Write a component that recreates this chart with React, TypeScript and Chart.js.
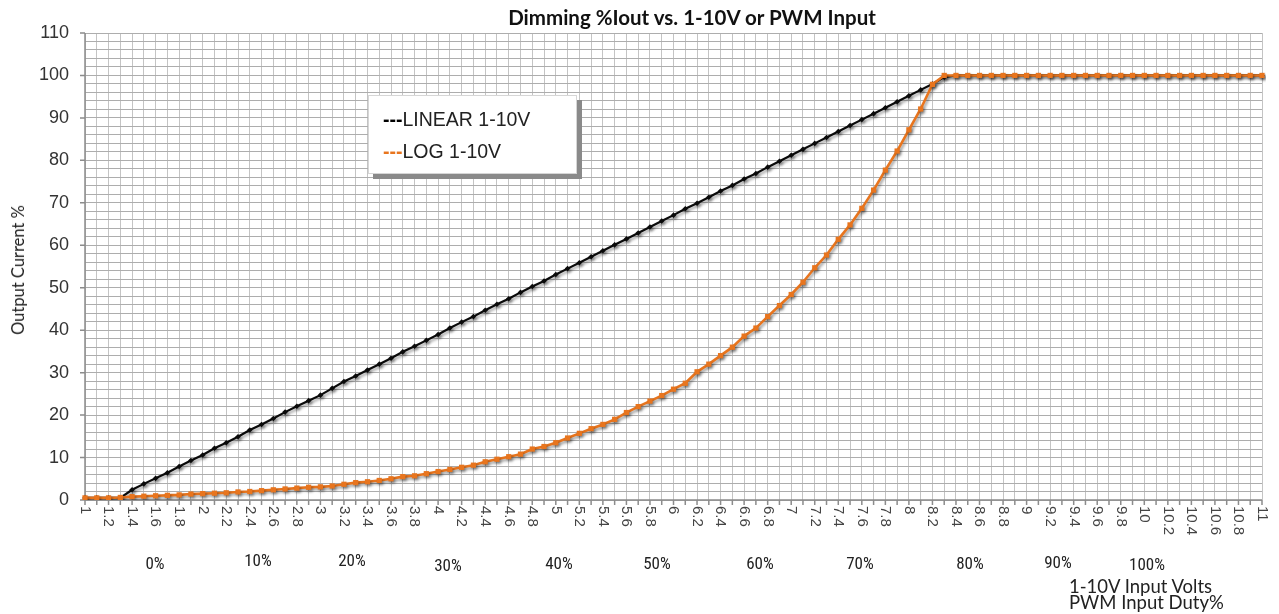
import React, { useEffect, useRef } from 'react';
import { Chart, registerables } from 'chart.js';

Chart.register(...registerables);

// Input volts (categories, one per 0.1 V)
const voltageCategories: string[] = [
  '1', '1.1', '1.2', '1.3', '1.4', '1.5', '1.6', '1.7', '1.8', '1.9',
  '2', '2.1', '2.2', '2.3', '2.4', '2.5', '2.6', '2.7', '2.8', '2.9',
  '3', '3.1', '3.2', '3.3', '3.4', '3.5', '3.6', '3.7', '3.8', '3.9',
  '4', '4.1', '4.2', '4.3', '4.4', '4.5', '4.6', '4.7', '4.8', '4.9',
  '5', '5.1', '5.2', '5.3', '5.4', '5.5', '5.6', '5.7', '5.8', '5.9',
  '6', '6.1', '6.2', '6.3', '6.4', '6.5', '6.6', '6.7', '6.8', '6.9',
  '7', '7.1', '7.2', '7.3', '7.4', '7.5', '7.6', '7.7', '7.8', '7.9',
  '8', '8.1', '8.2', '8.3', '8.4', '8.5', '8.6', '8.7', '8.8', '8.9',
  '9', '9.1', '9.2', '9.3', '9.4', '9.5', '9.6', '9.7', '9.8', '9.9',
  '10', '10.1', '10.2', '10.3', '10.4', '10.5', '10.6', '10.7', '10.8', '10.9',
  '11',
];

// Shown x tick labels (every 0.2 V)
const xTickLabels: string[] = [
  '1', '1.2', '1.4', '1.6', '1.8', '2', '2.2', '2.4', '2.6', '2.8',
  '3', '3.2', '3.4', '3.6', '3.8', '4', '4.2', '4.4', '4.6', '4.8',
  '5', '5.2', '5.4', '5.6', '5.8', '6', '6.2', '6.4', '6.6', '6.8',
  '7', '7.2', '7.4', '7.6', '7.8', '8', '8.2', '8.4', '8.6', '8.8',
  '9', '9.2', '9.4', '9.6', '9.8', '10', '10.2', '10.4', '10.6', '10.8',
  '11',
];

const yTickValues: number[] = [0, 10, 20, 30, 40, 50, 60, 70, 80, 90, 100, 110];

// LINEAR 1-10V series (% output current)
const linearSeries: number[] = [
  0.5, 0.5, 0.5, 0.5, 2.4, 3.8, 5.1, 6.4, 7.9, 9.3,
  10.6, 12.2, 13.5, 14.9, 16.5, 17.8, 19.2, 20.7, 22.1, 23.4,
  24.7, 26.3, 27.9, 29.2, 30.6, 32.0, 33.4, 34.9, 36.2, 37.6,
  39.0, 40.5, 41.9, 43.2, 44.7, 46.1, 47.4, 48.9, 50.3, 51.6,
  53.1, 54.5, 55.9, 57.3, 58.7, 60.1, 61.5, 62.9, 64.3, 65.7,
  67.1, 68.6, 69.9, 71.3, 72.8, 74.1, 75.6, 76.9, 78.4, 79.8,
  81.2, 82.6, 84.0, 85.4, 86.8, 88.2, 89.6, 91.0, 92.4, 93.8,
  95.2, 96.6, 98.0, 99.6, 100, 100, 100, 100, 100, 100,
  100, 100, 100, 100, 100, 100, 100, 100, 100, 100,
  100, 100, 100, 100, 100, 100, 100, 100, 100, 100,
  100,
];

// LOG 1-10V series (% output current)
const logSeries: number[] = [
  0.5, 0.5, 0.5, 0.6, 0.8, 0.9, 1.0, 1.1, 1.2, 1.4,
  1.5, 1.6, 1.7, 1.9, 2.0, 2.2, 2.4, 2.6, 2.8, 3.0,
  3.1, 3.3, 3.7, 4.1, 4.3, 4.6, 5.0, 5.5, 5.7, 6.2,
  6.7, 7.2, 7.7, 8.2, 9.0, 9.6, 10.2, 10.8, 12.0, 12.6,
  13.5, 14.6, 15.7, 16.8, 17.8, 19.0, 20.6, 22.0, 23.3, 24.6,
  26.1, 27.5, 30.2, 32.0, 34.0, 36.0, 38.6, 40.5, 43.2, 45.8,
  48.4, 51.3, 54.7, 57.7, 61.4, 64.8, 68.7, 73.0, 77.7, 82.2,
  87.2, 92.1, 97.9, 100, 100, 100, 100, 100, 100, 100,
  100, 100, 100, 100, 100, 100, 100, 100, 100, 100,
  100, 100, 100, 100, 100, 100, 100, 100, 100, 100,
  100,
];

// PWM duty labels under the axis
const pwmDutyLabels: string[] = ['0%', '10%', '20%', '30%', '40%', '50%', '60%', '70%', '80%', '90%', '100%'];
const pwmDutyLabelX: number[] = [155, 258, 352, 448, 559, 657, 760, 860, 970, 1058, 1147];
const pwmDutyLabelY: number[] = [563, 560, 560, 565, 563, 563, 563, 563, 563, 562, 564];

const BLACK = '#0a0a0a';
const ORANGE = '#E8751E';

const decorPlugin = {
  id: 'decor',
  beforeDatasetsDraw(chart: any) {
    const { ctx, chartArea: a, scales } = chart;
    ctx.save();
    ctx.strokeStyle = '#8c8c8c';
    ctx.lineWidth = 1.5;
    ctx.beginPath();
    ctx.moveTo(a.left, a.top);
    ctx.lineTo(a.left, a.bottom);
    ctx.lineTo(a.right, a.bottom);
    yTickValues.forEach((v) => {
      const y = scales.y.getPixelForValue(v);
      ctx.moveTo(a.left - 5, y);
      ctx.lineTo(a.left, y);
    });
    voltageCategories.forEach((_, i) => {
      const x = scales.x.getPixelForValue(i);
      ctx.moveTo(x, a.bottom);
      ctx.lineTo(x, a.bottom + 5);
    });
    ctx.stroke();
    ctx.restore();
  },
  beforeDatasetDraw(chart: any) {
    const ctx = chart.ctx;
    ctx.save();
    ctx.shadowColor = 'rgba(0,0,0,0.4)';
    ctx.shadowBlur = 3;
    ctx.shadowOffsetX = 1.5;
    ctx.shadowOffsetY = 2;
  },
  afterDatasetDraw(chart: any) {
    chart.ctx.restore();
  },
  afterDraw(chart: any) {
    const { ctx, chartArea: a, scales } = chart;
    ctx.save();
    ctx.fillStyle = '#333333';
    ctx.font = '18px "Liberation Sans", Arial, sans-serif';
    ctx.textAlign = 'right';
    ctx.textBaseline = 'middle';
    yTickValues.forEach((v) => {
      ctx.fillText(String(v), a.left - 16, scales.y.getPixelForValue(v));
    });
    ctx.font = '15px "Liberation Sans", Arial, sans-serif';
    ctx.fillStyle = '#444444';
    xTickLabels.forEach((lbl) => {
      const idx = voltageCategories.indexOf(lbl);
      const x = scales.x.getPixelForValue(idx);
      ctx.save();
      ctx.translate(x, a.bottom + 6);
      ctx.rotate(Math.PI / 2);
      ctx.textAlign = 'left';
      ctx.textBaseline = 'middle';
      ctx.fillText(lbl, 0, 0);
      ctx.restore();
    });
    ctx.restore();
  },
};

export default function App() {
  const canvasRef = useRef<HTMLCanvasElement | null>(null);

  useEffect(() => {
    if (!canvasRef.current) return;
    const chart = new Chart(canvasRef.current, {
      type: 'line',
      data: {
        labels: voltageCategories,
        datasets: [
          {
            label: 'LINEAR 1-10V',
            data: linearSeries,
            borderColor: BLACK,
            backgroundColor: BLACK,
            borderWidth: 2.2,
            pointStyle: 'rectRot',
            pointRadius: 2.8,
            pointBorderWidth: 0,
            tension: 0,
            order: 1,
          },
          {
            label: 'LOG 1-10V',
            data: logSeries,
            borderColor: ORANGE,
            backgroundColor: ORANGE,
            borderWidth: 2.6,
            pointStyle: 'rect',
            pointRadius: 3.7,
            pointBorderWidth: 0,
            tension: 0,
            order: 0,
          },
        ],
      },
      options: {
        animation: false,
        responsive: false,
        maintainAspectRatio: false,
        layout: { padding: { left: 85, right: 17, top: 33, bottom: 114 } },
        plugins: {
          legend: { display: false },
          title: { display: false },
          tooltip: { enabled: false },
        },
        scales: {
          x: {
            ticks: { display: false },
            grid: { color: '#c4c4c4', lineWidth: 1, drawTicks: false },
            border: { display: false },
          },
          y: {
            min: 0,
            max: 110,
            ticks: { display: false, stepSize: 2 },
            grid: { color: '#adadad', lineWidth: 1, drawTicks: false },
            border: { display: false },
          },
        },
      },
      plugins: [decorPlugin],
    });
    return () => chart.destroy();
  }, []);

  const narrow = '"Liberation Sans Narrow", "Roboto Condensed", "Liberation Sans", sans-serif';

  return (
    <div style={{ position: 'fixed', left: 0, top: 0, width: 1279, height: 614, background: '#fff', overflow: 'hidden' }}>
      <canvas ref={canvasRef} width={1279} height={614} style={{ position: 'absolute', left: 0, top: 0, width: 1279, height: 614 }} />
      <div style={{ position: 'absolute', left: 692, top: 17, transform: 'translate(-50%, -50%)', whiteSpace: 'nowrap', font: 'bold 20.5px Lato, "Open Sans", sans-serif', color: '#111' }}>
        Dimming %Iout vs. 1-10V or PWM Input
      </div>
      <div style={{ position: 'absolute', left: 18, top: 270, transform: 'translate(-50%, -50%) rotate(-90deg)', whiteSpace: 'nowrap', font: '16.5px Lato, "Open Sans", sans-serif', color: '#222' }}>
        Output Current %
      </div>
      <div style={{ position: 'absolute', left: 368, top: 95, width: 209, height: 79, background: '#fff', border: '1px solid #d6d6d6', boxShadow: '5px 5px 0 #8a8a8a', boxSizing: 'border-box' }}>
        <div style={{ position: 'absolute', left: 14, top: 12, font: '19.5px "Liberation Sans", Arial, sans-serif', color: '#222', whiteSpace: 'nowrap' }}>
          <span style={{ color: '#000', fontWeight: 'bold' }}>---</span>LINEAR 1-10V
        </div>
        <div style={{ position: 'absolute', left: 14, top: 44, font: '19.5px "Liberation Sans", Arial, sans-serif', color: '#222', whiteSpace: 'nowrap' }}>
          <span style={{ color: ORANGE, fontWeight: 'bold' }}>---</span>LOG 1-10V
        </div>
      </div>
      {pwmDutyLabels.map((t, i) => (
        <div key={t} style={{ position: 'absolute', left: pwmDutyLabelX[i], top: pwmDutyLabelY[i], transform: 'translate(-50%, -50%)', font: '17px ' + narrow, color: '#222', whiteSpace: 'nowrap' }}>
          {t}
        </div>
      ))}
      <div style={{ position: 'absolute', left: 1069, top: 578, font: '18.5px Lato, "Open Sans", sans-serif', color: '#222', whiteSpace: 'nowrap', lineHeight: '16px' }}>
        1-10V Input Volts
        <br />
        PWM Input Duty%
      </div>
    </div>
  );
}
